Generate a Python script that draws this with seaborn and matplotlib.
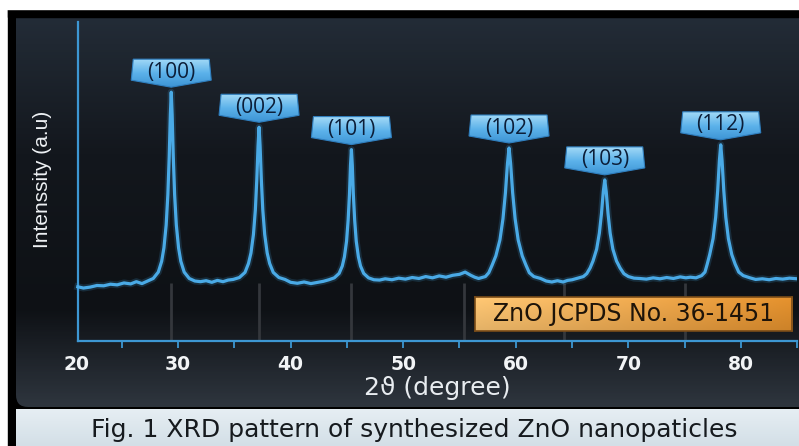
import numpy as np
import pandas as pd
import seaborn as sns
import matplotlib.pyplot as plt
import matplotlib.patches as mpatches
import matplotlib.transforms as mtransforms
from matplotlib.colors import LinearSegmentedColormap, to_rgb

# XRD pattern (intensity on a 0-100 a.u. scale)
two_theta = [
    21.1, 21.6, 22.2, 22.8, 23.4, 24.0, 24.6, 25.2, 25.8, 26.3, 26.8,
    27.3, 27.8, 28.25, 28.55, 28.75, 28.95, 29.1, 29.22, 29.32, 29.4,
    29.48, 29.58, 29.7, 29.85, 30.05, 30.25, 30.55, 31.0, 31.5,
    32.0, 32.5, 33.0, 33.5, 34.0, 34.45,
    34.9, 35.45, 35.95, 36.26, 36.48, 36.7, 36.87, 37.0, 37.11, 37.2,
    37.29, 37.4, 37.53, 37.7, 37.92, 38.14, 38.46, 38.96, 39.5,
    40.0, 40.6, 41.2, 41.8, 42.4, 42.9,
    43.4, 43.88, 44.31, 44.59, 44.78, 44.97, 45.11, 45.23, 45.32, 45.4,
    45.48, 45.57, 45.69, 45.83, 46.02, 46.21, 46.49, 46.92, 47.4,
    47.9, 48.4, 49.0, 49.6, 50.2, 50.8, 51.4, 52.0, 52.6, 53.2, 53.8, 54.4, 55.0, 55.5, 56.0, 56.35,
    56.7, 57.3, 57.6, 57.9, 58.23, 58.59, 58.86, 59.08, 59.26, 59.4,
    59.54, 59.72, 59.94, 60.21, 60.57, 60.9, 61.2, 61.6, 62.2,
    62.7, 63.2, 63.7, 64.2, 64.6, 65.0,
    65.5, 66.0, 66.3, 66.6, 66.86, 67.18, 67.42, 67.61, 67.77, 67.9,
    68.03, 68.19, 68.38, 68.62, 68.94, 69.26, 69.6, 70.0, 70.5,
    71.0, 71.6, 72.2, 72.8, 73.4, 74.0, 74.6, 75.1, 75.5,
    76.0, 76.5, 76.8, 77.0, 77.22, 77.52, 77.75, 77.93, 78.08, 78.2,
    78.32, 78.47, 78.65, 78.88, 79.18, 79.48, 79.8, 80.2, 80.8,
    81.3, 81.9, 82.5, 83.1, 83.7, 84.3, 85.0,
]
intensity = [
    17.0, 16.6, 16.9, 17.4, 17.3, 17.8, 17.6, 18.2, 17.9, 18.6, 18.0,
    18.8, 19.6, 21.6, 25.0, 29.2, 36.4, 45.9, 57.8, 70.9, 78.0,
    70.9, 57.8, 45.9, 36.4, 29.2, 25.0, 21.6, 19.6, 18.8,
    18.6, 18.9, 18.4, 19.0, 18.6, 19.1,
    19.3, 19.9, 21.5, 24.3, 27.6, 33.4, 41.1, 50.7, 61.2, 67.0,
    61.2, 50.7, 41.1, 33.4, 27.6, 24.3, 21.5, 19.9, 19.3,
    18.4, 18.1, 18.5, 18.0, 18.4, 18.7,
    19.2, 19.8, 21.2, 23.5, 26.4, 31.3, 37.9, 46.1, 55.1, 60.0,
    55.1, 46.1, 37.9, 31.3, 26.4, 23.5, 21.2, 19.8, 19.2,
    19.1, 19.5, 19.2, 19.7, 19.4, 19.9, 19.6, 20.2, 19.8, 20.4, 20.0, 20.6, 20.9, 21.6, 20.6, 20.0,
    19.6, 20.2, 21.4, 23.8, 26.7, 31.7, 38.3, 46.5, 55.6, 60.5,
    55.6, 46.5, 38.3, 31.7, 26.7, 23.8, 21.4, 20.2, 19.6,
    18.8, 18.5, 18.9, 18.5, 19.0, 19.2,
    19.7, 20.2, 21.1, 22.9, 25.1, 28.8, 33.8, 40.0, 46.8, 50.5,
    46.8, 40.0, 33.8, 28.8, 25.1, 22.9, 21.1, 20.2, 19.7,
    19.6, 19.4, 19.8, 19.5, 19.9, 19.6, 20.1, 19.8, 20.0,
    19.8, 20.5, 21.6, 24.1, 27.1, 32.1, 38.8, 47.2, 56.5, 61.5,
    56.5, 47.2, 38.8, 32.1, 27.1, 24.1, 21.6, 20.5, 19.8,
    19.3, 19.5, 19.2, 19.6, 19.4, 19.7, 19.5,
]

peak_labels = ['(100)', '(002)', '(101)', '(102)', '(103)', '(112)']
peak_pos = [29.4, 37.2, 45.4, 59.4, 67.9, 78.2]
peak_top = [78.0, 67.0, 60.0, 60.5, 50.5, 61.5]

# faint reference lines under the pattern
ref_lines = [29.4, 37.2, 45.4, 55.4, 64.3, 75.0]

xticks_major = [20, 30, 40, 50, 60, 70, 80]
xticks_minor = [25, 35, 45, 55, 65, 75, 85]

df = pd.DataFrame({'two_theta': two_theta, 'intensity': intensity})

W, H = 799, 446
fig = plt.figure(figsize=(W / 100, H / 100), dpi=100, facecolor='white')

# ---- background (pixel coordinates, y down)
bg = fig.add_axes([0, 0, 1, 1], zorder=0)
bg.set_xlim(0, W)
bg.set_ylim(H, 0)
bg.axis('off')
bg.add_patch(mpatches.Rectangle((8, 9), W - 8, H - 9, color='black', zorder=0))

cap_grad = np.linspace(0, 1, 40).reshape(-1, 1)
cap_cmap = LinearSegmentedColormap.from_list('cap', ['#e6eef3', '#d3dfe7'])
bg.imshow(cap_grad, extent=(16, W, H, 409), cmap=cap_cmap, aspect='auto', zorder=1)

panel = mpatches.FancyBboxPatch((16, -20), W + 10, 427, boxstyle='round,pad=0,rounding_size=12',
                                fc='none', ec='none', zorder=2)
bg.add_patch(panel)
panel_cmap = LinearSegmentedColormap.from_list('panel', [(0, '#232c37'), (0.35, '#13171d'),
                                                         (0.75, '#0e1115'), (1, '#2e353e')])
pim = bg.imshow(np.linspace(0, 1, 200).reshape(-1, 1), extent=(16, W, 407, 17), cmap=panel_cmap,
                aspect='auto', zorder=2)
pim.set_clip_path(panel)
bg.add_patch(mpatches.Rectangle((8, 9), W - 8, 8, color='black', zorder=3))
bg.add_patch(mpatches.Rectangle((0, 0), W, 9, color='white', zorder=3))
bg.set_xlim(0, W)
bg.set_ylim(H, 0)

# ---- main plot
ax = fig.add_axes([65.4 / W, (H - 341) / H, (797.3 - 65.4) / W, (341 - 22) / H], zorder=2)
ax.set_facecolor('none')

ax.vlines(ref_lines, 0, 18.3, colors='#34373c', lw=2, zorder=1)
sns.lineplot(data=df, x='two_theta', y='intensity', ax=ax, color='#45a8e6', lw=5, alpha=0.18, zorder=2)
sns.lineplot(data=df, x='two_theta', y='intensity', ax=ax, color='#4aaae6', lw=2.3, zorder=3)

# peak badges: pentagon with point toward the peak, offsets in pixels
badge_shape = np.array([[-38, 33], [38, 33], [40, 12], [0, 5], [-40, 12]])
badge_cmap = LinearSegmentedColormap.from_list('badge', ['#3b92d3', '#5cb2ea', '#a6dbf7'])
for lab, x0, y0 in zip(peak_labels, peak_pos, peak_top):
    trans = mtransforms.Affine2D() + mtransforms.ScaledTranslation(x0, y0, ax.transData)
    poly = mpatches.Polygon(badge_shape, closed=True, transform=trans, fc='none',
                            ec='#2f7fbf', lw=0.8, zorder=5)
    ax.add_patch(poly)
    im = ax.imshow(np.linspace(0, 1, 64).reshape(-1, 1), extent=(-41, 41, 4, 34), origin='lower',
                   cmap=badge_cmap, aspect='auto', transform=trans, zorder=4)
    im.set_clip_path(poly)
    ax.annotate(lab, xy=(x0, y0), xytext=(0, 20), textcoords='offset pixels', ha='center',
                va='center', fontsize=15, color='#0c1e38', family='Open Sans', zorder=6)

ax.set_xlim(20, 85)
ax.set_ylim(0, 100)
ax.set_xticks(xticks_major)
ax.set_xticks(xticks_minor, minor=True)
ax.set_xticklabels([str(t) for t in xticks_major], fontsize=13.5, fontweight='bold',
                   color='#f2f4f6', family='DejaVu Sans')
ax.set_yticks([])
ax.tick_params(axis='x', which='both', direction='out', length=5, width=1.3, color='#3d97d3', pad=5)
ax.xaxis.get_major_ticks()[0].tick1line.set_visible(False)
first = ax.get_xticklabels()[0]
first.set_transform(first.get_transform() + mtransforms.ScaledTranslation(0.11, 0, fig.dpi_scale_trans))
for s in ['top', 'right']:
    ax.spines[s].set_visible(False)
ax.spines['left'].set_position(('data', 21.1))
ax.spines['bottom'].set_bounds(21.1, 85)
for s in ['left', 'bottom']:
    ax.spines[s].set_color('#3d97d3')
    ax.spines[s].set_linewidth(1.6)
ax.set_xlabel('')
ax.set_ylabel('')

# ---- JCPDS tag
tag = fig.add_axes([475 / W, (H - 331) / H, 317 / W, 34 / H], zorder=3)
gx = np.linspace(0, 1, 300)
gy = np.linspace(0, 1, 40)
left, right = np.array(to_rgb('#f2bd6e')), np.array(to_rgb('#d98a2b'))
rgb = left[None, None, :] * (1 - gx[None, :, None]) + right[None, None, :] * gx[None, :, None]
rgb = np.clip(rgb * (1.06 - 0.12 * gy[:, None, None]), 0, 1)
tag.imshow(rgb, aspect='auto', extent=(0, 1, 0, 1), origin='upper')
tag.set_xticks([])
tag.set_yticks([])
for s in tag.spines.values():
    s.set_color('#7a4c18')
    s.set_linewidth(1.2)
tag.text(0.5, 0.5, 'ZnO JCPDS No. 36-1451', ha='center', va='center', fontsize=17,
         color='#1e1409', family='DejaVu Sans', transform=tag.transAxes)

# ---- labels and caption
fig.text(437 / W, 1 - 388 / H, '2ϑ (degree)', ha='center', va='center', fontsize=18,
         color='#e8ecf0', family='DejaVu Sans')
fig.text(42 / W, 1 - 179 / H, 'Intenssity (a.u)', ha='center', va='center', rotation=90,
         fontsize=15, color='#eef1f4', family='Liberation Sans')
fig.text(414 / W, (H - 437) / H, 'Fig. 1 XRD pattern of synthesized ZnO nanopaticles',
         ha='center', va='baseline', fontsize=18, color='#161a1e', family='DejaVu Sans', zorder=5)

fig.savefig('out.png', dpi=100, facecolor='white')
